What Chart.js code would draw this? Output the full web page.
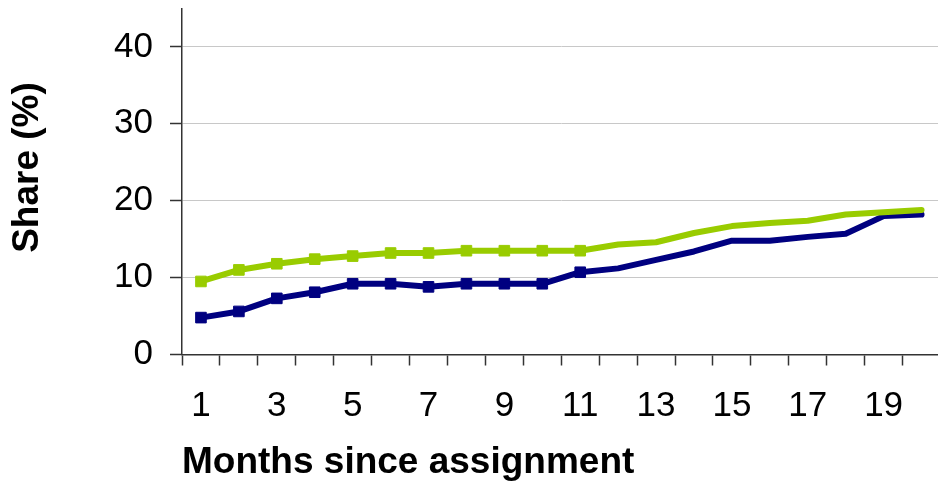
<!DOCTYPE html>
<html>
<head>
<meta charset="utf-8">
<script src="https://cdn.jsdelivr.net/npm/chart.js@4"></script>
<style>
  html, body { margin: 0; padding: 0; overflow: hidden; background: #fff; }
  #wrap { width: 949px; height: 482px; }
</style>
</head>
<body>
<div id="wrap"><canvas id="chart" width="949" height="482"></canvas></div>
<script>
// Months on the horizontal axis and the ones that carry a printed label
const months = ['1','2','3','4','5','6','7','8','9','10','11','12','13','14','15','16','17','18','19','20'];
const labelledMonths = ['1','3','5','7','9','11','13','15','17','19'];

// Share (%) per month for the two groups
const shareGreen = [9.5, 11.0, 11.8, 12.4, 12.8, 13.2, 13.2, 13.5, 13.5, 13.5, 13.5, 14.3, 14.6, 15.8, 16.7, 17.1, 17.4, 18.2, 18.5, 18.8];
const shareNavy  = [4.8, 5.6, 7.3, 8.1, 9.2, 9.2, 8.8, 9.2, 9.2, 9.2, 10.7, 11.2, 12.3, 13.4, 14.8, 14.8, 15.3, 15.7, 18.0, 18.2];

// Months that are drawn with a square marker
const markedMonths = ['1','2','3','4','5','6','7','8','9','10','11'];

// Value axis ticks and title
const yTickValues = [0, 10, 20, 30, 40];
const yTitle = 'Share (%)';

const FONT = '"Liberation Sans", Arial, Helvetica, sans-serif';
const AXIS = '#333333';
Chart.defaults.font.family = FONT;
Chart.defaults.color = '#000';

const markerRadii = months.map(m => markedMonths.includes(m) ? 7.5 : 0);

function seriesStyle(color) {
  return {
    borderColor: color,
    backgroundColor: color,
    pointBackgroundColor: color,
    pointBorderColor: color,
    borderWidth: 6,
    pointStyle: 'rect',
    pointRadius: markerRadii,
    pointHoverRadius: markerRadii,
    pointBorderWidth: 1,
    tension: 0,
    fill: false,
    borderCapStyle: 'round',
    borderJoinStyle: 'round'
  };
}

// Keep the plot area edges fixed regardless of label overhang
function noEdgePadding(s) {
  s.paddingTop = 0;
  s.paddingBottom = 0;
  s.paddingLeft = 0;
  s.paddingRight = 0;
}

// Rotated value-axis title, placed slightly above the middle of the axis
const valueAxisTitle = {
  id: 'valueAxisTitle',
  afterDraw(chart) {
    const ctx = chart.ctx;
    const area = chart.chartArea;
    ctx.save();
    ctx.translate(28, (area.top + area.bottom) / 2 - 14);
    ctx.rotate(-Math.PI / 2);
    ctx.font = 'bold 37px ' + FONT;
    ctx.fillStyle = '#000';
    ctx.textAlign = 'center';
    ctx.textBaseline = 'middle';
    ctx.fillText(yTitle, 0, 0);
    ctx.restore();
  }
};

new Chart(document.getElementById('chart'), {
  type: 'line',
  data: {
    labels: months,
    datasets: [
      Object.assign({ label: 'Green', data: shareGreen }, seriesStyle('#99cc00')),
      Object.assign({ label: 'Navy', data: shareNavy }, seriesStyle('#000080'))
    ]
  },
  plugins: [valueAxisTitle],
  options: {
    responsive: false,
    animation: false,
    devicePixelRatio: 1,
    layout: { padding: { top: 8, left: 0, right: 0, bottom: 0 } },
    plugins: { legend: { display: false }, tooltip: { enabled: false } },
    scales: {
      x: {
        offset: true,
        grid: {
          offset: true,
          drawOnChartArea: false,
          drawTicks: true,
          tickLength: 11,
          tickColor: AXIS,
          tickWidth: 1.5
        },
        border: { display: true, color: AXIS, width: 1.5 },
        ticks: {
          autoSkip: false,
          maxRotation: 0,
          padding: 20,
          color: '#000',
          font: { size: 35 },
          callback: (v, i) => labelledMonths.includes(months[i]) ? months[i] : ''
        },
        title: {
          display: true,
          text: 'Months since assignment',
          align: 'start',
          color: '#000',
          font: { size: 37, weight: 'bold' },
          padding: { top: 0, bottom: -3 }
        },
        afterFit: s => { noEdgePadding(s); s.height = 127.5; }
      },
      y: {
        min: 0,
        max: 45,
        afterBuildTicks: s => { s.ticks = yTickValues.map(v => ({ value: v })); },
        grid: {
          color: '#c8c8c8',
          lineWidth: 1,
          drawTicks: true,
          tickLength: 12,
          tickColor: AXIS,
          tickWidth: 1.5
        },
        border: { display: true, color: AXIS, width: 1.5 },
        ticks: {
          padding: 17,
          color: '#000',
          font: { size: 35 }
        },
        afterFit: s => { noEdgePadding(s); s.width = 182; }
      }
    }
  }
});
</script>
</body>
</html>
